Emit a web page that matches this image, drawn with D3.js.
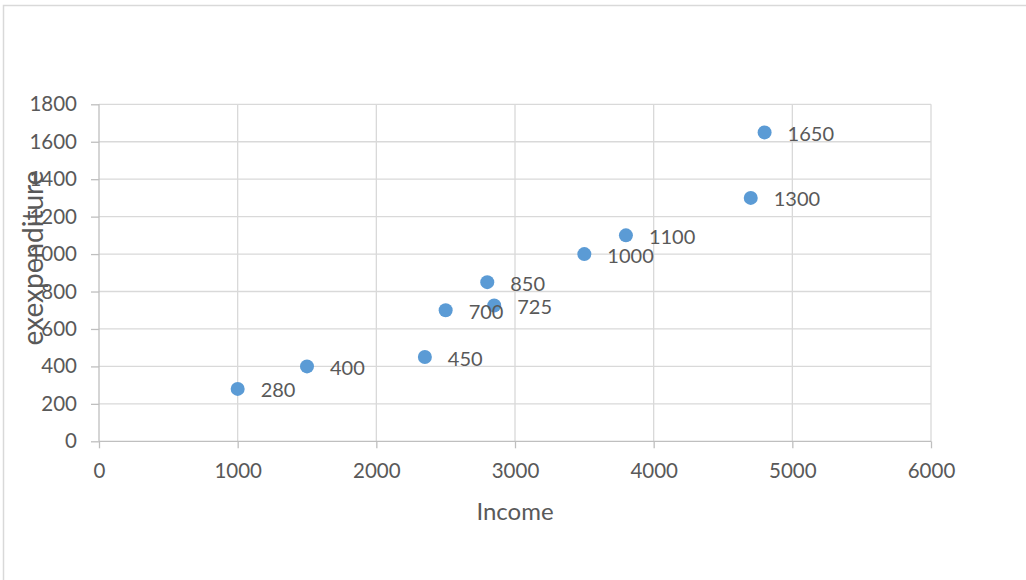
<!DOCTYPE html>
<html>
<head>
<meta charset="utf-8">
<script src="https://cdn.jsdelivr.net/npm/d3@7"></script>
<style>
  html, body { margin: 0; padding: 0; background: #fff; }
  svg { display: block; }
  text { font-family: Lato, "Open Sans", sans-serif; fill: #595959; }
</style>
</head>
<body>
<svg id="chart" width="1026" height="580"></svg>
<script>
const income = [1000, 1500, 2350, 2500, 2800, 2850, 3500, 3800, 4700, 4800];
const expenditure = [280, 400, 450, 700, 850, 725, 1000, 1100, 1300, 1650];
const xTicks = [0, 1000, 2000, 3000, 4000, 5000, 6000];
const yTicks = [0, 200, 400, 600, 800, 1000, 1200, 1400, 1600, 1800];
const xTitle = "Income";
const yTitle = "exexpenditure";

const svg = d3.select("#chart");
const W = 1026, H = 580;

// chart frame
svg.append("path")
  .attr("d", `M3.5,${H} V5.5 H${W}`)
  .attr("fill", "none").attr("stroke", "#d9d9d9").attr("stroke-width", 1.5);

const x = d3.scaleLinear().domain([0, 6000]).range([99, 931]);
const y = d3.scaleLinear().domain([0, 1800]).range([441.3, 104.3]);

// gridlines
svg.append("g").selectAll("line").data(xTicks.slice(1)).join("line")
  .attr("x1", d => x(d)).attr("x2", d => x(d))
  .attr("y1", y(1800)).attr("y2", y(0))
  .attr("stroke", "#d9d9d9").attr("stroke-width", 1.3);
svg.append("g").selectAll("line").data(yTicks.slice(1)).join("line")
  .attr("x1", x(0)).attr("x2", x(6000))
  .attr("y1", d => y(d)).attr("y2", d => y(d))
  .attr("stroke", "#d9d9d9").attr("stroke-width", 1.3);

// axes
const fmt = d3.format("d");
const xAxis = svg.append("g").attr("transform", `translate(0,${y(0)})`)
  .call(d3.axisBottom(x).tickValues(xTicks).tickFormat(fmt).tickSize(7).tickPadding(15));
const yAxis = svg.append("g").attr("transform", `translate(${x(0)},0)`)
  .call(d3.axisLeft(y).tickValues(yTicks).tickFormat(fmt).tickSize(8).tickPadding(14));
[xAxis, yAxis].forEach(a => {
  a.select(".domain").attr("stroke", "#bfbfbf").attr("stroke-width", 1.3);
  a.selectAll(".tick line").attr("stroke", "#bfbfbf").attr("stroke-width", 1.3);
  a.selectAll(".tick text").attr("fill", "#595959")
    .style("font-family", "Lato, 'Open Sans', sans-serif").style("font-size", "20.5px");
});
xAxis.select(".domain").attr("d", `M${x(0)},0H${x(6000)}`);
yAxis.select(".domain").attr("d", `M0,${y(0)}V${y(1800)}`);

// points
const pts = income.map((v, i) => ({ x: v, y: expenditure[i] }));
svg.append("g").selectAll("circle").data(pts).join("circle")
  .attr("cx", d => x(d.x)).attr("cy", d => y(d.y)).attr("r", 7)
  .attr("fill", "#5b9bd5");

// data labels
svg.append("g").selectAll("text").data(pts).join("text")
  .attr("x", d => x(d.x) + 23).attr("y", d => y(d.y) + 1.5)
  .attr("dy", "0.35em")
  .style("font-size", "20px").attr("fill", "#404040")
  .text(d => d.y);

// titles
svg.append("text").attr("x", 515).attr("y", 512).attr("dy", "0.35em")
  .attr("text-anchor", "middle").style("font-size", "24px").text(xTitle);
svg.append("text").attr("transform", `translate(33,258) rotate(-90)`)
  .attr("dy", "0.35em").attr("text-anchor", "middle")
  .style("font-size", "28px").text(yTitle);
</script>
</body>
</html>
